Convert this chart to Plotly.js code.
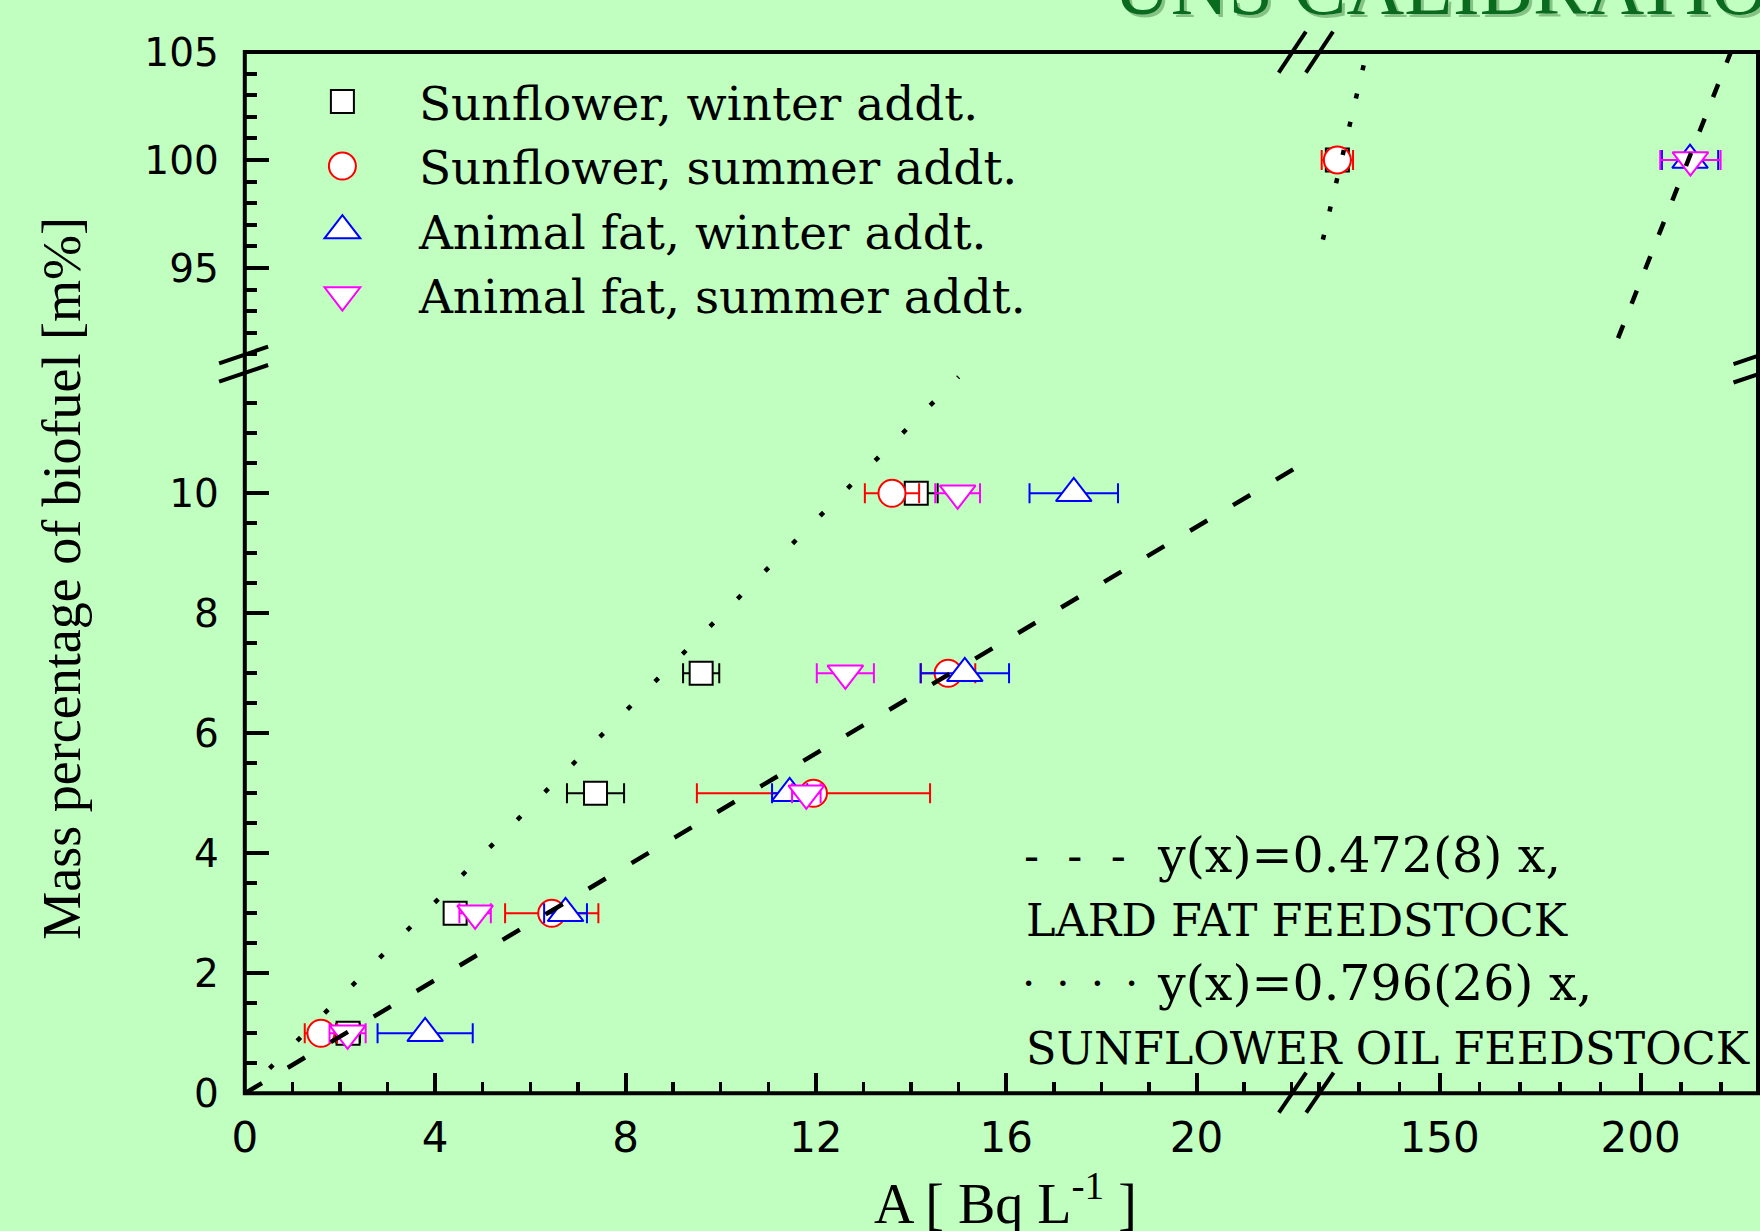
<!DOCTYPE html>
<html>
<head>
<meta charset="utf-8">
<script src="https://cdn.plot.ly/plotly-3.0.1.min.js"></script>
<style>
  html, body { margin: 0; padding: 0; background: #c0ffc0; }
  #chart { width: 1760px; height: 1231px; }
</style>
</head>
<body>
<div id="chart"></div>
<script>
// ---------------- data ----------------
const levelsLow  = [1, 3, 5, 7, 10];     // mass % of biofuel, lower panel
const levelsHigh = [100];                // mass % of biofuel, upper panel

const sunWinterA      = [2.17, 4.42, 7.37, 9.59, 14.11];
const sunWinterErr    = [0.25, 0.15, 0.60, 0.38, 0.45];
const sunWinterAHigh  = [124.6];
const sunWinterErrHigh= [0.8];

const sunSummerA      = [1.60, 6.45, 11.95, 14.78, 13.60];
const sunSummerErr    = [0.34, 0.98, 2.45, 0.57, 0.57];
const sunSummerAHigh  = [124.6];
const sunSummerErrHigh= [3.9];

const fatWinterA      = [3.79, 6.74, 11.45, 15.13, 17.42];
const fatWinterErr    = [1.00, 0.45, 0.37, 0.93, 0.93];
const fatWinterAHigh  = [212.3];
const fatWinterErrHigh= [7.0];

const fatSummerA      = [2.16, 4.84, 11.80, 12.62, 14.98];
const fatSummerErr    = [0.38, 0.33, 0.30, 0.60, 0.47];
const fatSummerAHigh  = [212.4];
const fatSummerErrHigh= [7.5];

const seriesNames = ['Sunflower, winter addt.', 'Sunflower, summer addt.',
                     'Animal fat, winter addt.', 'Animal fat, summer addt.'];

// linear fits y(x) = k x
const lardSlope = 0.472;
const sunSlope  = 0.796;
const lardLowX  = [0, 22.3];
const sunLowX   = [0.52, 15.0];
const lardHighX = [194.4, 226];
const sunHighX  = [121, 135];

const lowXRange  = [0, 22.3];
const highXRange = [116.8, 229.2];
const lowYRange  = [0, 11.99];
const highYRange = [90.56, 105];

// ---------------- helpers ----------------
const W = 1760, H = 1231;
const px = v => v / W;
const py = v => 1 - v / H;

const colors  = ['#000000', '#ff0000', '#0000ff', '#ff00ff'];
const symbols = ['square', 'circle', 'triangle-up', 'triangle-down'];
const msizes  = [23, 27, 31, 31];

function pts(i, xs, ys, errs, high) {
  return {
    type: 'scatter', mode: 'markers',
    name: seriesNames[i], legendgroup: 'g' + i, showlegend: !high,
    x: xs, y: ys,
    xaxis: high ? 'x2' : 'x', yaxis: high ? 'y2' : 'y',
    marker: { symbol: symbols[i], size: msizes[i], color: '#ffffff',
              line: { color: colors[i], width: 2 } },
    error_x: { type: 'data', array: errs, visible: true, color: colors[i],
               thickness: 2, width: 10 },
    cliponaxis: false
  };
}
function fit(k, xs, high, dash) {
  return {
    type: 'scatter', mode: 'lines', showlegend: false, hoverinfo: 'skip',
    x: xs, y: xs.map(v => k * v),
    xaxis: high ? 'x2' : 'x', yaxis: high ? 'y2' : 'y',
    line: { color: '#000', width: 4.5, dash: dash }
  };
}

const traces = [
  pts(0, sunWinterA, levelsLow, sunWinterErr, false),
  pts(1, sunSummerA, levelsLow, sunSummerErr, false),
  pts(2, fatWinterA, levelsLow, fatWinterErr, false),
  pts(3, fatSummerA, levelsLow, fatSummerErr, false),
  pts(0, sunWinterAHigh, levelsHigh, sunWinterErrHigh, true),
  pts(1, sunSummerAHigh, levelsHigh, sunSummerErrHigh, true),
  pts(2, fatWinterAHigh, levelsHigh, fatWinterErrHigh, true),
  pts(3, fatSummerAHigh, levelsHigh, fatSummerErrHigh, true),
  fit(lardSlope, lardLowX, false, '20px,30px'),
  fit(sunSlope,  sunLowX,  false, '5px,34px'),
  fit(lardSlope, lardHighX, true, '14px,23px'),
  fit(sunSlope,  sunHighX,  true, '5px,24px')
];

function ax(o) {
  return Object.assign({
    showgrid: false, zeroline: false, showline: false,
    ticks: 'inside', tickcolor: '#000', tickmode: 'linear',
    fixedrange: true,
    tickfont: { family: 'DejaVu Sans', size: 39, color: '#000' }
  }, o);
}
// 47.6 px per unit on the lower x axis, 4.02 px per unit on the upper one,
// 60 px per unit on the lower y axis, 21.6 px per unit on the upper one
const xDomLow  = [px(244.8), px(1306)];
const xDomHigh = [px(1306), px(1758)];
const yDomLow  = [py(1093.3), py(1093.3 - 60 * 11.99)];
const yDomHigh = [py(364), py(52)];

const xMajor = { ticklen: 20, tickwidth: 4 };
const yMajor = { ticklen: 24, tickwidth: 4 };
const xMinor = (t0, d) => ({ tick0: t0, dtick: d, ticklen: 11, tickwidth: 3.5, ticks: 'inside', tickcolor: '#000' });
const yMinor = (t0, d) => ({ tick0: t0, dtick: d, ticklen: 12, tickwidth: 4, ticks: 'inside', tickcolor: '#000' });
const xFont = { family: 'DejaVu Sans', size: 42, color: '#000' };
const yFont = { family: 'DejaVu Sans', size: 39, color: '#000' };

const black4 = { color: '#000', width: 4 };
function seg(x0, y0, x1, y1) {
  return { type: 'line', xref: 'paper', yref: 'paper', layer: 'above',
           x0: px(x0), y0: py(y0), x1: px(x1), y1: py(y1), line: black4 };
}

const capFont = { family: 'DejaVu Serif', size: 44.5, color: '#000' };
const eqFont  = { family: 'DejaVu Serif', size: 49, color: '#000' };
const NB = '\u00a0', EN = '\u2002';

function note(text, x, y, font, extra) {
  return Object.assign({ text: text, xref: 'paper', yref: 'paper', x: px(x), y: py(y),
    xanchor: 'left', yanchor: 'middle', showarrow: false, font: font }, extra || {});
}

const layout = {
  width: W, height: H,
  margin: { l: 0, r: 0, t: 0, b: 0, pad: 0 },
  paper_bgcolor: '#c0ffc0', plot_bgcolor: 'rgba(0,0,0,0)',
  showlegend: true,
  legend: {
    x: px(265.9), xanchor: 'left', y: py(64.5), yanchor: 'top',
    bgcolor: 'rgba(0,0,0,0)', borderwidth: 0,
    font: { family: 'DejaVu Serif', size: 47, color: '#000' },
    itemwidth: 143, tracegroupgap: 0.4
  },
  xaxis: ax(Object.assign({ domain: xDomLow, range: lowXRange, anchor: 'y', side: 'bottom',
            tick0: 0, dtick: 4, minor: xMinor(0, 1), ticklabelstandoff: 16, tickfont: xFont }, xMajor)),
  xaxis2: ax(Object.assign({ domain: xDomHigh, range: highXRange, anchor: 'y', side: 'bottom',
            tick0: 0, dtick: 50, minor: xMinor(0, 10), ticklabelstandoff: 16, tickfont: xFont }, xMajor)),
  xaxis3: ax(Object.assign({ domain: xDomLow, range: lowXRange, anchor: 'y2', side: 'top',
            overlaying: 'x', tick0: 0, dtick: 4, minor: xMinor(0, 1), showticklabels: false }, xMajor)),
  xaxis4: ax(Object.assign({ domain: xDomHigh, range: highXRange, anchor: 'y2', side: 'top',
            overlaying: 'x2', tick0: 0, dtick: 50, minor: xMinor(0, 10), showticklabels: false }, xMajor)),
  yaxis: ax(Object.assign({ domain: yDomLow, range: lowYRange, anchor: 'x', side: 'left',
            tick0: 0, dtick: 2, minor: yMinor(0, 0.5), ticklabelstandoff: 25, tickfont: yFont }, yMajor)),
  yaxis2: ax(Object.assign({ domain: yDomHigh, range: highYRange, anchor: 'x', side: 'left',
            tick0: 0, dtick: 5, minor: yMinor(0, 1), ticklabelstandoff: 25, tickfont: yFont }, yMajor)),
  yaxis3: ax(Object.assign({ domain: yDomLow, range: lowYRange, anchor: 'x2', side: 'right',
            overlaying: 'y', tick0: 0, dtick: 2, minor: yMinor(0, 0.5), showticklabels: false }, yMajor)),
  yaxis4: ax(Object.assign({ domain: yDomHigh, range: highYRange, anchor: 'x2', side: 'right',
            overlaying: 'y2', tick0: 0, dtick: 5, minor: yMinor(0, 1), showticklabels: false }, yMajor)),
  shapes: [
    { type: 'rect', xref: 'paper', yref: 'paper', layer: 'above',
      x0: px(244.8), x1: px(1758), y0: py(1093.3), y1: py(52),
      line: black4, fillcolor: 'rgba(0,0,0,0)' },
    // axis-break marks
    seg(1278.9, 1112.7, 1306.2, 1072.7), seg(1306.2, 1112.7, 1333.6, 1072.7),
    seg(1278.7, 72.7, 1305.9, 31.7),     seg(1305.9, 72.7, 1333.0, 31.7),
    seg(219.1, 363.3, 268.1, 346.7),     seg(219.1, 381.7, 268.1, 365.0),
    seg(1733.5, 364.2, 1782.5, 347.6),   seg(1733.5, 382.5, 1782.5, 365.9)
  ],
  annotations: [
    note('UNS CALIBRATION', 1111, 33.3,
         { family: 'Liberation Serif', size: 80, color: 'rgba(0,50,0,0.3)' },
         { yanchor: 'bottom', xshift: 3, yshift: -3 }),
    note('UNS CALIBRATION', 1111, 33.3,
         { family: 'Liberation Serif', size: 80, color: '#0a6a1e' },
         { yanchor: 'bottom' }),
    note('Mass percentage of biofuel [m%]', 61.7, 578,
         { family: 'Liberation Serif', size: 54, color: '#000' },
         { textangle: -90, xanchor: 'center' }),
    note('A [ Bq L<sup>-1</sup> ]', 1005, 1237,
         { family: 'Liberation Serif', size: 56, color: '#000' },
         { xanchor: 'center', yanchor: 'bottom' }),
    // fit-line key
    note('-' + NB + NB + '-' + NB + NB + '-', 1022, 855, capFont),
    note('y(x)=0.472(8) x,', 1155, 855, eqFont),
    note('LARD FAT FEEDSTOCK', 1024, 920, capFont),
    note('\u00b7' + EN + '\u00b7' + EN + '\u00b7' + EN + '\u00b7', 1020, 983,
         { family: 'DejaVu Serif', size: 42, color: '#000' }),
    note('y(x)=0.796(26) x,', 1155, 983, eqFont),
    note('SUNFLOWER OIL FEEDSTOCK', 1024, 1048, capFont)
  ]
};

const gd = document.getElementById('chart');
Plotly.newPlot(gd, traces, layout, { staticPlot: true, displayModeBar: false }).then(function () {
  // enlarge legend symbols to the size of the plotted markers (legend caps them at 16 px)
  gd.querySelectorAll('.legend .traces').forEach(function (item) {
    const d = item.__data__;
    const tr = d && d[0] && d[0][0] ? d[0][0].trace : (d && d[0] ? d[0].trace : null);
    if (!tr || !tr.marker) return;
    const k = tr.marker.size / 16;
    item.querySelectorAll('path.scatterpts').forEach(function (p) {
      const t = p.getAttribute('transform') || '';
      p.setAttribute('transform', t + ' scale(' + k + ')');
      p.style.strokeWidth = (2 / k) + 'px';
    });
  });
});
</script>
</body>
</html>
